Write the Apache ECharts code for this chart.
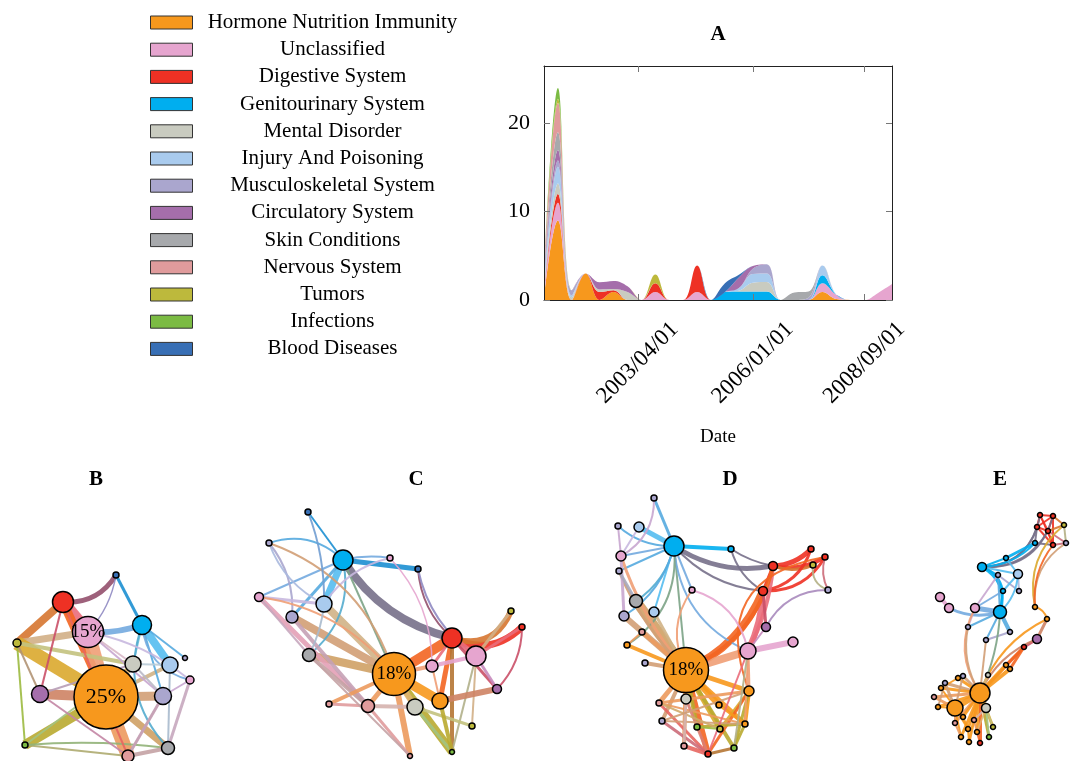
<!DOCTYPE html>
<html><head><meta charset="utf-8">
<script src="https://cdn.jsdelivr.net/npm/echarts@6/dist/echarts.min.js"></script>
<style>html,body{margin:0;padding:0;background:#fff}#c{width:1072px;height:761px}</style>
</head><body><div id="c"></div>
<script>
// ---------- categories ----------
const categories = ['Hormone Nutrition Immunity','Unclassified','Digestive System','Genitourinary System','Mental Disorder','Injury And Poisoning','Musculoskeletal System','Circulatory System','Skin Conditions','Nervous System','Tumors','Infections','Blood Diseases'];
const colors = ['#F7981D','#E6A5CF','#EE3124','#00AEEF','#C9CBC0','#A9CBEE','#AAA6CE','#A56EAB','#A7A9AC','#E09B9C','#BDB93C','#7BBB43','#386FB5'];

// ---------- panel A: stacked areas, one sample every 4 months ----------
const dates = ['2001-01-01','2001-05-01','2001-09-01','2002-01-01','2002-05-01','2002-09-01','2003-01-01',
  '2003-05-01','2003-09-01','2004-01-01','2004-05-01','2004-09-01','2005-01-01','2005-05-01','2005-09-01',
  '2006-01-01','2006-05-01','2006-09-01','2007-01-01','2007-05-01','2007-09-01','2008-01-01','2008-05-01',
  '2008-09-01','2009-01-01','2009-05-01'];
const tickDates = ['2003-04-01','2006-01-01','2008-09-01'];
const tickLabels = ['2003/04/01','2006/01/01','2008/09/01'];
const yTicks = [0, 10, 20];
const hormone   = [0.2,9.0,0,3.0,0,0.9,0,0,0,0,0,0,0,0,0,0,0,0,0,0,0.9,0.1,0,0,0,0];
const unclass   = [0.5,2.0,0,0,0,0,0,0,0.9,0,0,0.9,0,0,0,0,0,0,0,0,1.0,0.5,0,0,0.8,1.8];
const digestive = [0,1.0,0,0,0.9,0.2,0,0,1.0,0,0,3.0,0,0,0,0,0,0,0,0,0,0,0,0,0,0];
const genito    = [0,0,0,0,0,0,0,0,0,0,0,0,0,0.9,0.95,0.95,0.95,0,0,0,0.9,0,0,0,0,0];
const mental    = [0.4,1.2,0.3,0,0.3,0.15,0.9,0,0,0,0,0,0,0,0.1,1.0,1.1,0,0,0,0,0,0,0,0,0];
const injury    = [0.5,1.9,0.2,0,0,0,0,0,0,0,0,0,0,0,0.3,1.0,0.95,0,0,0,1.1,0,0,0,0,0];
const musculo   = [0.8,0.7,0.6,0,0,0,0,0,0,0,0,0,0,0,0,0.6,1.05,0,0,0.25,0,0,0,0,0,0];
const circul    = [0.3,1.2,0,0,0.8,0.9,0.65,0,0,0,0,0,0,0,1.2,0.3,0,0,0,0,0,0,0,0,0,0];
const skin      = [0.3,2.0,0,0,0,0,0,0,0,0,0,0,0,0,0,0,0,0,0.85,0.7,0,0,0,0,0,0];
const nervous   = [0.4,3.3,0,0,0,0,0,0,0,0,0,0,0,0,0,0,0,0,0,0,0,0,0,0,0,0];
const tumors    = [0,0.5,0,0,0,0,0,0,1.0,0,0,0,0,0,0,0,0,0,0,0,0,0,0,0,0,0];
const infections= [0,1.2,0,0,0,0,0,0,0,0,0,0,0,0,0,0,0,0,0,0,0,0,0,0,0,0];
const blood     = [0,0,0,0,0,0,0,0,0,0,0,0,0,1.0,0.3,0,0,0,0,0,0,0,0,0,0,0];
const areaValues = [hormone,unclass,digestive,genito,mental,injury,musculo,circul,skin,nervous,tumors,infections,blood];

// ---------- networks: nodes [x, y, category, size, label], links [source, target, width, curveness] ----------
const nodesB = [
 [63,602,2,21],[116,575,12,6],[88,632,1,31,'15%'],[142,625,3,19],[17,643,10,8],[133,664,4,16],
 [170,665,5,16],[185,658,6,5],[190,680,1,8],[40,694,7,17],[106,697,0,64,'25%'],[163,696,6,17],
 [25,745,11,6],[168,748,8,13],[128,756,9,12]];
const linksB = [
 [0,4,8,0],[4,2,7,0],[4,10,14,0],[12,10,10,0],[9,10,10,0],[10,14,14,0],[10,11,9,0],[10,13,7,0],
 [0,2,12,0],[0,10,9,0],[2,10,14,0],[0,1,5,-0.3],[2,3,6,-0.1],[1,3,3,0],[1,2,1.5,0.15],
 [4,5,4,0],[4,12,2,0],[4,9,2,0],[12,14,2,0],[12,5,2,0],[12,13,2,0.05],[10,5,6,0],[10,6,4,0],
 [3,6,8,0],[3,5,2,0],[3,11,2,0],[3,13,2,-0.3],[3,8,2,-0.35],[3,7,2,0],[11,8,2,0],[13,8,3,0],
 [14,13,4,0],[14,11,2,0],[0,14,2,0],[0,9,2,0],[2,11,2,0],[9,14,2,0],[5,11,2,0],[6,13,2,0],
 [2,5,2,0],[9,5,2,0],[6,8,2,0],[5,6,2,0],[2,6,2,0.1],[11,14,3,0]];

const nodesC = [
 [308,512,12,6],[269,543,6,6],[343,560,3,20],[390,558,1,6],[418,569,12,6],[259,597,1,9],
 [324,604,5,16],[292,617,6,12],[452,638,2,20],[511,611,10,6],[522,627,2,6],[476,656,1,20],
 [309,655,8,13],[432,666,1,12],[394,674,0,43,'18%'],[497,689,7,9],[329,704,9,6],[368,706,9,13],
 [415,707,4,16],[440,701,0,16],[472,726,10,6],[452,752,11,5],[410,756,9,5]];
const linksC = [
 [7,14,8,0],[6,14,8,0],[12,14,8,0],[8,14,10,0],[14,19,10,0],[14,21,8,0],[14,22,6,0],
 [2,0,2,0],[2,1,2,-0.3],[2,3,2,0.1],[2,4,5,0],[2,8,8,-0.2],[2,6,7,0],[2,7,3,0],[2,5,2,0],
 [2,14,2,0],[2,12,2,0.3],[4,8,2,-0.2],[4,11,2,-0.2],[1,7,2,0.2],[1,6,2,-0.2],[3,6,2,-0.2],
 [3,13,1.5,0.2],[5,17,5,0],[5,6,3,0],[5,12,2,0],[7,17,4,0],[12,17,4,0],[8,10,7,-0.35],
 [8,9,6,-0.45],[8,11,6,0],[8,13,3,0],[8,15,3,0],[8,19,5,0],[8,21,4,0],[11,9,3,0],[11,10,3,0],
 [11,13,4,0],[11,20,2,0],[11,21,2,0],[14,13,4,0],[14,18,6,0],[14,17,5,0],[14,16,4,0],
 [17,18,4,0],[19,15,6,0],[18,20,3,0],[18,21,3,0],[17,22,3,0],[19,21,4,0],[13,19,2,0],
 [5,14,2,0.2],[16,17,3,0],[1,14,2,0.25],[0,6,2,0.1],[6,12,2,0.1],[12,22,2,0],[11,15,3,0],[10,15,2,0.2]];

const nodesD = [
 [654,498,6,6],[618,526,6,6],[639,527,5,10],[674,546,3,20],[731,549,3,6],[811,549,2,6],
 [825,557,2,6],[813,565,10,6],[773,566,2,9],[621,556,1,10],[619,571,6,6],[828,590,6,6],
 [763,591,2,9],[692,590,1,6],[636,601,8,13],[654,612,5,10],[624,616,6,10],[766,627,7,9],
 [642,632,9,6],[748,651,1,16],[793,642,1,10],[627,645,0,6],[645,663,6,6],[686,670,0,45,'18%'],
 [749,691,0,10],[686,699,4,10],[659,703,9,6],[719,705,0,6],[662,721,6,6],[697,727,11,6],
 [720,729,10,6],[745,724,0,6],[684,746,9,6],[708,754,2,6],[734,748,11,6]];
const linksD = [
 [23,14,10,0],[23,16,6,0],[23,12,8,-0.2],[19,23,8,0],[23,33,6,0],[23,27,6,0],[23,25,6,0],
 [3,0,3,0],[3,2,5,0],[3,1,2,0.2],[3,9,2,0],[3,10,2,0],[3,14,2,0.2],[3,15,2,0],[3,13,2,0],
 [3,4,4,0],[3,23,2,0],[3,8,5,-0.2],[3,12,2,-0.2],[3,19,2,-0.3],[3,16,2,0.2],[3,21,2,0.3],
 [4,12,2,-0.2],[4,8,2,-0.1],[0,9,2,0.3],[1,9,2,0],[2,9,2,0],[8,5,5,-0.2],[8,6,4,-0.2],
 [8,7,3,-0.2],[12,5,3,-0.3],[12,6,3,-0.3],[8,12,3,0],[12,19,6,0.1],[8,19,4,0.1],[23,8,4,-0.25],
 [6,11,2,-0.2],[7,11,2,-0.4],[17,11,2,0.3],[17,19,2,0],[12,17,3,0],[24,6,2,0.6],[19,20,6,0],
 [19,24,3,0],[13,19,2,0.3],[23,15,3,0],[23,18,4,0],[23,21,4,0],[23,22,4,0],[23,9,3,0.1],
 [23,10,3,0.1],[16,9,3,0],[14,10,3,0],[18,21,2,0],[13,23,2,-0.3],[23,26,5,0],[23,28,4,0],
 [23,29,4,0],[23,30,5,0],[23,31,5,0],[23,32,4,0],[23,34,4,0],[23,24,5,0],[24,31,4,0],
 [24,30,3,0],[24,33,3,0],[24,34,3,0],[26,33,3,0],[28,33,3,0],[32,33,4,0],[33,34,3,0],
 [31,34,3,0],[29,31,3,0],[26,31,2,0],[25,33,3,0],[27,31,3,0],[28,31,2,0],[26,30,2,0],
 [29,30,2,0],[25,32,3,0],[24,28,2,0],[24,26,3,0],[19,31,2,0],[19,34,2,0],[19,33,2,0]];

const nodesE = [
 [1040,515,2,5],[1053,516,2,5],[1064,525,10,5],[1037,527,2,5],[1048,531,2,5],[1053,545,2,5],
 [1066,543,6,5],[1035,543,3,5],[982,567,3,9],[1006,558,3,5],[998,575,6,5],[1018,574,5,9],
 [1003,591,3,5],[1019,591,6,5],[940,597,1,9],[949,608,1,9],[975,608,1,9],[1000,612,3,13],
 [1035,607,0,5],[1047,619,0,5],[968,627,6,5],[1010,632,6,5],[986,640,6,5],[1037,639,7,9],
 [1024,647,2,5],[1006,665,0,5],[1010,669,0,5],[988,675,4,5],[980,693,0,20],[955,708,0,16],
 [986,708,4,9],[963,676,6,5],[958,678,0,5],[945,683,6,5],[941,688,0,5],[934,697,9,5],
 [938,707,0,5],[955,723,9,5],[963,717,0,5],[974,720,9,5],[968,729,0,5],[977,732,0,5],
 [989,737,11,5],[993,727,10,5],[961,737,0,5],[969,742,0,5],[980,743,2,5]];
const linksE = [
 [0,1,2,0],[0,3,2,0],[0,4,2,0],[1,2,2,0],[1,4,2,0],[3,4,2,0],[3,5,2,0],[4,5,2,0],[1,5,2,0],
 [4,6,2,0],[2,6,2,0],[0,5,1.5,0],[3,7,2,0],[7,5,2,0],[1,3,2,0],[2,4,2,0],[5,6,2,0],
 [8,0,2,-0.4],[8,3,2,-0.35],[8,1,2,-0.4],[8,4,2,-0.3],[8,7,2,-0.2],[8,9,2,0],[8,10,2,0],
 [8,11,2,0],[9,7,3,0],[9,11,2,0],[8,17,3,0.4],[8,12,2,0.3],[10,13,2,0],[11,13,2,0],[11,12,2,0],
 [10,17,2,0],[12,17,2,0],[11,17,2,0.2],[16,17,5,0],[15,17,3,-0.2],[14,15,4,0],[16,20,2,0],
 [20,17,2,0],[17,21,4,0],[17,22,2,0],[22,21,2,0],[10,16,2,0],[12,16,2,0],[2,18,2,-0.3],
 [6,18,2,-0.3],[5,18,2,-0.2],[18,19,2,0.3],[19,23,3,0],[23,24,3,0],[24,25,3,0],[24,26,3,0],
 [23,28,2,-0.2],[24,28,3,0],[19,28,2,-0.2],[28,17,2,-0.1],[28,16,2,0.3],[28,20,2,0.2],
 [28,22,2,0],[28,29,6,0],[28,30,4,0],[28,25,4,0],[28,26,4,0],[28,27,3,0],[28,31,3,0],
 [28,32,3,0],[28,33,3,0],[28,34,3,0],[28,35,3,0],[28,36,3,0],[28,37,3,0],[28,38,3,0],
 [28,39,3,0],[28,40,3,0],[28,41,3,0],[28,42,3,0],[28,43,3,0],[28,44,3,0],[28,45,3,0],
 [28,46,3,0],[29,31,2,0],[29,33,3,0],[29,34,2,0],[29,35,3,0],[29,36,2,0],[29,37,3,0],
 [29,38,2,0],[29,40,2,0],[29,44,2,0],[30,43,2,0],[30,42,2,0],[30,41,2,0],[30,39,2,0],
 [38,40,2,0],[39,41,2,0],[40,45,2,0],[41,46,2,0],[37,44,2,0],[32,34,2,0],[33,36,2,0]];

// ---------- helpers ----------
const SERIF = '"Liberation Serif", "DejaVu Serif", serif';
function hex2rgb(h){return [1,3,5].map(i=>parseInt(h.substr(i,2),16));}
function mix(a,b){const x=hex2rgb(a),y=hex2rgb(b);return 'rgb('+x.map((v,i)=>Math.round((v+y[i])/2)).join(',')+')';}
function graphSeries(nodes, links){
  const xs=nodes.map(n=>n[0]), ys=nodes.map(n=>n[1]);
  const minX=Math.min(...xs), maxX=Math.max(...xs), minY=Math.min(...ys), maxY=Math.max(...ys);
  return {
    type:'graph', layout:'none', silent:true, animation:false,
    left:minX, top:minY, width:maxX-minX, height:maxY-minY,
    symbol:'circle', roam:false,
    lineStyle:{opacity:0.9},
    data: nodes.map((n,i)=>({
      id:String(i), name:String(i), x:n[0], y:n[1], symbolSize:n[3],
      itemStyle:{color:colors[n[2]], borderColor:'#000', borderWidth:1.5},
      label: n[4] ? {show:true, position:'inside', formatter:n[4], color:'#000',
                     fontFamily:SERIF, fontSize: n[3] > 50 ? 22 : 19} : {show:false}
    })),
    links: links.map(l=>({source:l[0], target:l[1],
      lineStyle:{width:l[2], curveness:l[3], color:mix(colors[nodes[l[0]][2]], colors[nodes[l[1]][2]])}}))
  };
}
const ts = d => { const p = d.split('-').map(Number); return Date.UTC(p[0], p[1]-1, p[2]); };
const tickTs = tickDates.map(ts);
const xMin = ts(dates[0]), xMax = ts(dates[dates.length-1]);

const areaSeries = areaValues.map((vals,k)=>({
  type:'line', name:categories[k], stack:'total', smooth:0.4, symbol:'none', showSymbol:false,
  xAxisIndex:0, yAxisIndex:0, data: vals,
  lineStyle:{width:0}, itemStyle:{color:colors[k]}, areaStyle:{color:colors[k], opacity:1}
}));

const axisCommon = {gridIndex:1, z:10, axisLine:{show:true, onZero:false, lineStyle:{color:'#222', width:1}}, splitLine:{show:false}};
const gridRect = {left:544, top:66, width:348, height:234, containLabel:false};
const chart = echarts.init(document.getElementById('c'));
chart.setOption({
  animation:false,
  backgroundColor:'#fff',
  legend:{
    orient:'vertical', left:145, top:7, itemWidth:42, itemHeight:13, itemGap:6.2, icon:'rect',
    selectedMode:false, data:categories,
    itemStyle:{borderColor:'#333', borderWidth:1},
    formatter: name => '{t|' + name + '}',
    textStyle:{rich:{t:{width:270, align:'center', fontFamily:SERIF, fontSize:21, lineHeight:20, color:'#000'}}}
  },
  grid:[Object.assign({}, gridRect), Object.assign({}, gridRect)],
  xAxis:[
    {gridIndex:0, type:'category', data:dates, boundaryGap:false, show:false},
    Object.assign({type:'value', min:xMin, max:xMax, position:'bottom',
      axisTick:{inside:true, length:6, customValues:tickTs, lineStyle:{color:'#777'}},
      axisLabel:{customValues:tickTs, rotate:45, align:'center', verticalAlign:'middle', margin:63,
        fontFamily:SERIF, fontSize:23, color:'#000',
        formatter: v => { const i = tickTs.findIndex(p=>Math.abs(p-v)<1000); return i>=0 ? tickLabels[i] : ''; }},
      name:'Date', nameLocation:'middle', nameGap:128,
      nameTextStyle:{fontFamily:SERIF, fontSize:19, color:'#000'}}, axisCommon),
    Object.assign({type:'value', min:xMin, max:xMax, position:'top',
      axisTick:{inside:true, length:6, customValues:tickTs, lineStyle:{color:'#777'}},
      axisLabel:{show:false}}, axisCommon)
  ],
  yAxis:[
    {gridIndex:0, type:'value', min:0, max:26.5, show:false},
    Object.assign({type:'value', min:0, max:26.5, position:'left',
      axisTick:{inside:true, length:6, customValues:yTicks, lineStyle:{color:'#777'}},
      axisLabel:{customValues:yTicks, margin:14, fontFamily:SERIF, fontSize:22, color:'#000'}}, axisCommon),
    Object.assign({type:'value', min:0, max:26.5, position:'right',
      axisTick:{inside:true, length:6, customValues:yTicks, lineStyle:{color:'#777'}},
      axisLabel:{show:false}}, axisCommon)
  ],
  graphic:[
    {type:'text', x:718, y:35, style:{text:'A', font:'bold 21px '+SERIF, align:'center', verticalAlign:'middle', fill:'#000'}},
    {type:'text', x:96, y:480, style:{text:'B', font:'bold 21px '+SERIF, align:'center', verticalAlign:'middle', fill:'#000'}},
    {type:'text', x:416, y:480, style:{text:'C', font:'bold 21px '+SERIF, align:'center', verticalAlign:'middle', fill:'#000'}},
    {type:'text', x:730, y:480, style:{text:'D', font:'bold 21px '+SERIF, align:'center', verticalAlign:'middle', fill:'#000'}},
    {type:'text', x:1000, y:480, style:{text:'E', font:'bold 21px '+SERIF, align:'center', verticalAlign:'middle', fill:'#000'}}
  ],
  series: areaSeries.concat([
    graphSeries(nodesB, linksB), graphSeries(nodesC, linksC),
    graphSeries(nodesD, linksD), graphSeries(nodesE, linksE)
  ])
});
</script></body></html>
